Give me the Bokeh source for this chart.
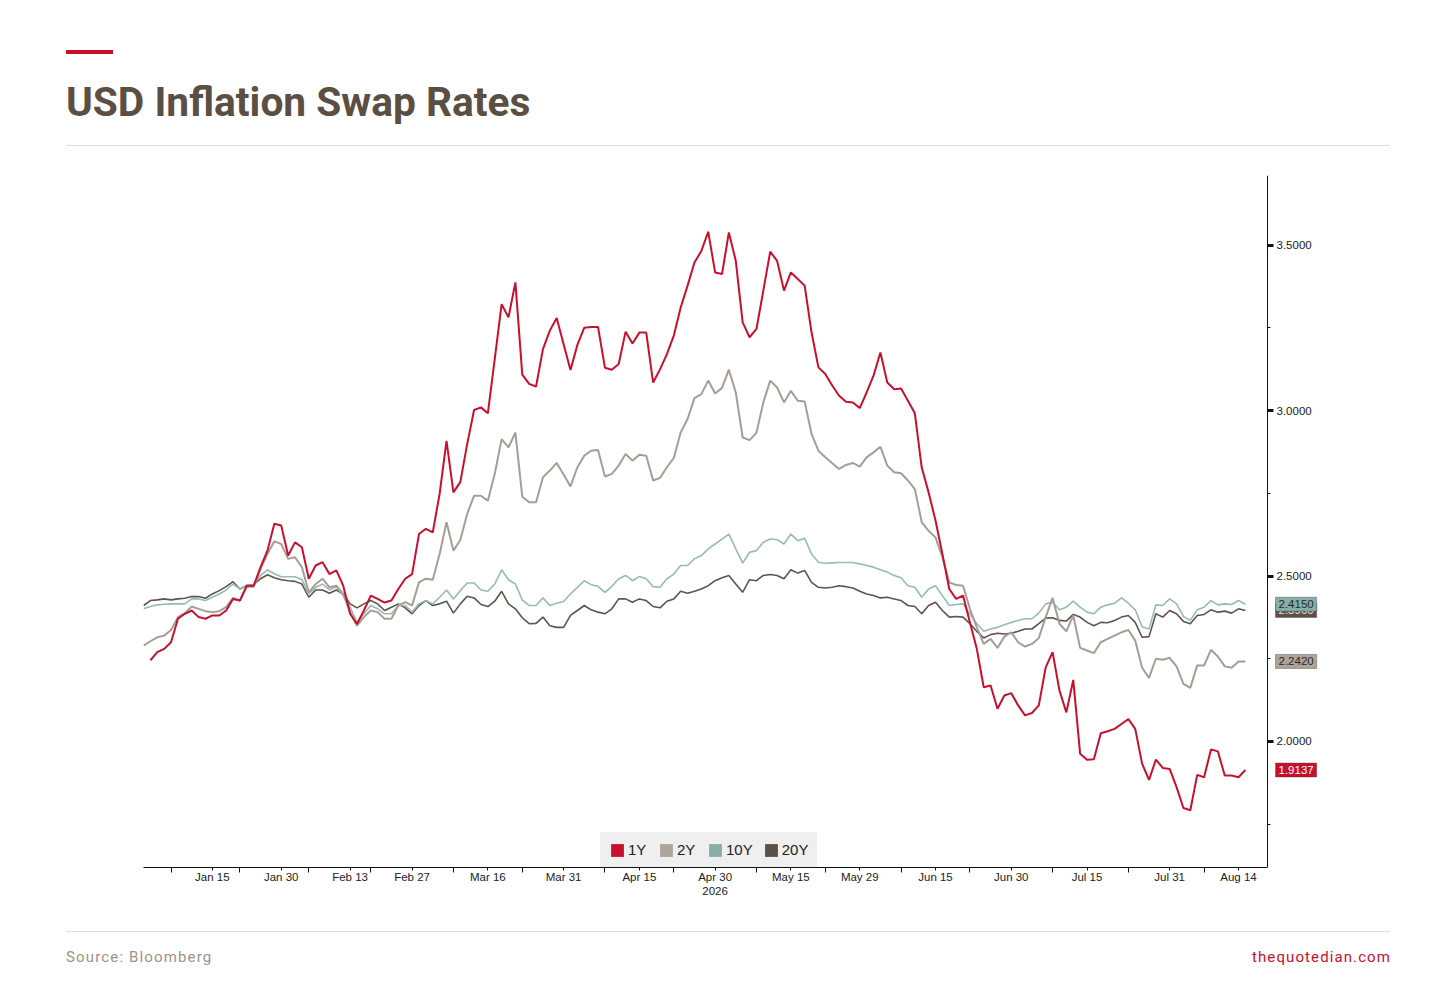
from bokeh.plotting import figure
from bokeh.layouts import column
from bokeh.models import (ColumnDataSource, FixedTicker, Label, Legend, LegendItem,
                          Range1d, NumeralTickFormatter, Div)
from bokeh.embed import file_html
from bokeh.resources import INLINE

# ---------------- data (business-day index, Jan 2026 .. Aug 2026) ----------------
tick_labels = ["Jan 15", "Jan 30", "Feb 13", "Feb 27", "Mar 16", "Mar 31", "Apr 15",
               "Apr 30\n2026", "May 15", "May 29", "Jun 15", "Jun 30", "Jul 15", "Jul 31", "Aug 14"]
tick_index = [10, 20, 30, 39, 50, 61, 72, 83, 94, 104, 115, 126, 137, 149, 159]
minor_index = [4, 14, 24, 33, 45, 55, 67, 77, 89, 99, 110, 120, 132, 143, 154]

y_ticks = [2.0, 2.5, 3.0, 3.5]
y_minor = [1.75, 2.25, 2.75, 3.25]

one_y = [float("nan"),
    2.245, 2.270, 2.280, 2.300, 2.371, 2.386, 2.396, 2.376, 2.371, 2.381, 2.381, 2.396, 2.431, 2.426,
    2.471, 2.471, 2.527, 2.577, 2.658, 2.653, 2.562, 2.602, 2.587, 2.492, 2.532, 2.542, 2.506, 2.517,
    2.471, 2.386, 2.355, 2.396, 2.441, 2.431, 2.420, 2.426, 2.461, 2.492, 2.506, 2.627, 2.643,
    2.632, 2.749, 2.909, 2.753, 2.784, 2.899, 3.002, 3.010, 2.992, 3.156, 3.322, 3.282, 3.388, 3.109,
    3.081, 3.073, 3.186, 3.242, 3.280, 3.201, 3.123, 3.199, 3.251, 3.253, 3.253, 3.130, 3.124, 3.141,
    3.239, 3.203, 3.236, 3.236, 3.085, 3.125, 3.171, 3.227, 3.312, 3.378, 3.448, 3.483, 3.541,
    3.418, 3.413, 3.539, 3.453, 3.267, 3.222, 3.247, 3.363, 3.481, 3.453, 3.363, 3.418, 3.398, 3.378,
    3.237, 3.131, 3.111, 3.076, 3.045, 3.027, 3.025, 3.008, 3.055, 3.106, 3.176, 3.085, 3.065, 3.067,
    3.030, 2.992, 2.828, 2.753, 2.668, 2.567, 2.461, 2.431, 2.441,
    2.360, 2.280, 2.164, 2.169, 2.099, 2.139, 2.146, 2.109, 2.079, 2.086, 2.109, 2.224, 2.270, 2.154,
    2.088, 2.186, 1.963, 1.945, 1.946, 2.025, 2.031, 2.038, 2.053, 2.068, 2.038, 1.933, 1.884, 1.945,
    1.920, 1.917, 1.862, 1.799, 1.792, 1.899, 1.892, 1.976, 1.970, 1.897, 1.897, 1.892, 1.9137]

two_y = [
    2.290, 2.303, 2.315, 2.320, 2.337, 2.376, 2.388, 2.408, 2.401, 2.394, 2.391, 2.394, 2.406, 2.434,
    2.426, 2.468, 2.468, 2.522, 2.567, 2.605, 2.597, 2.552, 2.557, 2.527, 2.451, 2.476, 2.492, 2.466,
    2.471, 2.446, 2.391, 2.350, 2.376, 2.396, 2.391, 2.371, 2.371, 2.411, 2.421, 2.411, 2.481, 2.492,
    2.489, 2.567, 2.663, 2.577, 2.609, 2.688, 2.743, 2.743, 2.728, 2.809, 2.914, 2.889, 2.934, 2.740,
    2.723, 2.723, 2.799, 2.819, 2.842, 2.807, 2.771, 2.829, 2.864, 2.879, 2.881, 2.801, 2.809, 2.834,
    2.869, 2.849, 2.867, 2.864, 2.789, 2.797, 2.829, 2.857, 2.934, 2.975, 3.038, 3.050, 3.091,
    3.052, 3.069, 3.124, 3.055, 2.919, 2.911, 2.933, 3.025, 3.091, 3.070, 3.025, 3.060, 3.030, 3.028,
    2.930, 2.879, 2.859, 2.841, 2.824, 2.836, 2.842, 2.831, 2.859, 2.874, 2.891, 2.834, 2.814, 2.811,
    2.789, 2.763, 2.663, 2.637, 2.617, 2.557, 2.481, 2.473,
    2.471, 2.401, 2.345, 2.295, 2.310, 2.283, 2.317, 2.330, 2.300, 2.287, 2.295, 2.313, 2.376, 2.434,
    2.356, 2.333, 2.381, 2.283, 2.275, 2.267, 2.300, 2.310, 2.320, 2.330, 2.337, 2.305, 2.223, 2.192,
    2.250, 2.247, 2.253, 2.227, 2.174, 2.162, 2.230, 2.230, 2.277, 2.257, 2.227, 2.223, 2.242, 2.242]

ten_y = [
    2.401, 2.408, 2.413, 2.415, 2.416, 2.416, 2.416, 2.431, 2.431, 2.426, 2.436, 2.446, 2.458, 2.476,
    2.461, 2.473, 2.473, 2.502, 2.519, 2.507, 2.498, 2.498, 2.498, 2.489, 2.446, 2.466, 2.476, 2.458,
    2.468, 2.441, 2.406, 2.360, 2.386, 2.411, 2.401, 2.386, 2.386, 2.411, 2.411, 2.391, 2.416, 2.426,
    2.416, 2.436, 2.458, 2.431, 2.456, 2.479, 2.479, 2.458, 2.454, 2.476, 2.519, 2.489, 2.476, 2.428,
    2.411, 2.411, 2.434, 2.411, 2.418, 2.423, 2.446, 2.466, 2.486, 2.474, 2.469, 2.451, 2.469, 2.492,
    2.502, 2.486, 2.499, 2.492, 2.468, 2.466, 2.492, 2.506, 2.532, 2.532, 2.552, 2.562, 2.582,
    2.597, 2.612, 2.627, 2.582, 2.539, 2.572, 2.577, 2.602, 2.612, 2.610, 2.597, 2.627, 2.607, 2.614,
    2.567, 2.542, 2.539, 2.540, 2.541, 2.541, 2.541, 2.537, 2.532, 2.527, 2.519, 2.512, 2.502, 2.495,
    2.471, 2.466, 2.436, 2.461, 2.471, 2.441, 2.411, 2.414,
    2.416, 2.386, 2.356, 2.333, 2.340, 2.345, 2.353, 2.360, 2.366, 2.371, 2.371, 2.388, 2.416, 2.421,
    2.398, 2.406, 2.424, 2.406, 2.391, 2.386, 2.406, 2.413, 2.418, 2.434, 2.418, 2.398, 2.347, 2.340,
    2.413, 2.411, 2.431, 2.416, 2.378, 2.366, 2.398, 2.406, 2.426, 2.413, 2.416, 2.414, 2.426, 2.415]

twenty_y = [
    2.411, 2.426, 2.428, 2.431, 2.428, 2.431, 2.433, 2.438, 2.438, 2.433, 2.446, 2.456, 2.468, 2.483,
    2.461, 2.471, 2.474, 2.492, 2.504, 2.495, 2.489, 2.486, 2.484, 2.476, 2.436, 2.458, 2.458, 2.448,
    2.458, 2.446, 2.416, 2.404, 2.416, 2.426, 2.416, 2.396, 2.406, 2.416, 2.404, 2.386, 2.411, 2.426,
    2.411, 2.416, 2.424, 2.388, 2.416, 2.439, 2.434, 2.414, 2.408, 2.424, 2.454, 2.416, 2.401, 2.374,
    2.356, 2.357, 2.376, 2.350, 2.345, 2.345, 2.381, 2.396, 2.411, 2.398, 2.391, 2.386, 2.401, 2.431,
    2.431, 2.421, 2.431, 2.426, 2.408, 2.404, 2.424, 2.431, 2.454, 2.448, 2.454, 2.461, 2.471,
    2.486, 2.495, 2.502, 2.476, 2.451, 2.489, 2.486, 2.502, 2.505, 2.502, 2.492, 2.519, 2.509, 2.517,
    2.481, 2.466, 2.464, 2.466, 2.471, 2.468, 2.464, 2.454, 2.446, 2.441, 2.434, 2.436, 2.431, 2.426,
    2.411, 2.408, 2.386, 2.411, 2.421, 2.396, 2.376, 2.378,
    2.376, 2.356, 2.333, 2.313, 2.323, 2.327, 2.325, 2.327, 2.333, 2.340, 2.340, 2.356, 2.373, 2.374,
    2.366, 2.364, 2.384, 2.376, 2.360, 2.350, 2.360, 2.359, 2.366, 2.376, 2.381, 2.360, 2.315, 2.317,
    2.386, 2.376, 2.396, 2.386, 2.363, 2.356, 2.381, 2.384, 2.398, 2.391, 2.394, 2.388, 2.401, 2.396]

day = list(range(len(two_y)))

title_text = "USD Inflation Swap Rates"
source_text = "Source: Bloomberg"
site_text = "thequotedian.com"

names = ["1Y", "2Y", "10Y", "20Y"]
line_colors = {"1Y": "#C8102E", "2Y": "#A69E95", "10Y": "#97BBB4", "20Y": "#5E544B"}
tag_colors = {"1Y": "#C8102E", "2Y": "#ADA49A", "10Y": "#86AEA6", "20Y": "#5B5048"}
tag_text = {"1Y": "#FFFFFF", "2Y": "#2A2A2A", "10Y": "#1F2A28", "20Y": "#E8E4E0"}

# ---------------- layout constants (page px) ----------------
W = 1440
HEADER_H, FOOTER_H = 150, 60
FIG_TOP = HEADER_H
FL, AXR, FR, FT, FB = 143, 1267, 1330, 175, 867
FIG_H = 920 - FIG_TOP
PX_PER_DAY = 6.887
X_START = 0.0
X_AXIS = (AXR - FL) / PX_PER_DAY
X_END = (FR - FL) / PX_PER_DAY
Y_START, Y_END = 1.619, 3.711
LEG_PAD = 9

src = ColumnDataSource(dict(day=day, y1=one_y, y2=two_y, y10=ten_y, y20=twenty_y))

p = figure(width=W, height=FIG_H, output_backend="svg", toolbar_location=None, tools="",
           x_range=Range1d(X_START, X_END), y_range=Range1d(Y_START, Y_END),
           y_axis_location="right",
           min_border_left=FL, min_border_right=W - FR,
           min_border_top=FT - FIG_TOP, min_border_bottom=FIG_TOP + FIG_H - FB)
p.outline_line_color = None
p.xgrid.visible = False
p.ygrid.visible = False
p.background_fill_color = "white"
p.border_fill_color = "white"

for col, key, lw in [("20Y", "y20", 1.6), ("10Y", "y10", 1.6), ("2Y", "y2", 2.0), ("1Y", "y1", 2.0)]:
    p.line("day", key, source=src, line_color=line_colors[col], line_width=lw)

# x axis
xa = p.xaxis[0]
xa.bounds = (X_START, X_AXIS)
xa.ticker = FixedTicker(ticks=tick_index, minor_ticks=minor_index)
xa.major_label_overrides = {t: l for t, l in zip(tick_index, tick_labels)}
xa.axis_line_color = "#111111"
xa.major_tick_line_color = "#111111"
xa.minor_tick_line_color = "#111111"
xa.major_tick_in = 0
xa.major_tick_out = 3
xa.minor_tick_in = 0
xa.minor_tick_out = 5
xa.major_label_standoff = -2
xa.major_label_text_font = "Liberation Sans"
xa.major_label_text_font_size = "11.5px"
xa.major_label_text_color = "#222222"

# y axis drawn at a fixed data location so the value tags fit right of it
ya = p.yaxis[0]
ya.fixed_location = X_AXIS
ya.ticker = FixedTicker(ticks=y_ticks, minor_ticks=y_minor)
ya.formatter = NumeralTickFormatter(format="0.0000")
ya.axis_line_color = "#111111"
ya.major_tick_line_color = "#111111"
ya.major_tick_line_width = 3
ya.major_tick_in = 0
ya.major_tick_out = 6
ya.minor_tick_line_color = "#111111"
ya.minor_tick_in = 0
ya.minor_tick_out = 3
ya.major_label_standoff = 3
ya.major_label_text_font = "Liberation Sans"
ya.major_label_text_font_size = "11.5px"
ya.major_label_text_color = "#222222"

# legend with square swatches (renderers hold a single NaN row, so nothing is drawn)
nan = float("nan")
items = []
for n in names:
    r = p.quad(left=[nan], right=[nan], top=[nan], bottom=[nan],
               fill_color=tag_colors[n], line_color=None)
    items.append(LegendItem(label=n, renderers=[r]))
legend = Legend(items=items, orientation="horizontal",
                location=(600 - FL, 0),
                background_fill_color="#EFEFEF", background_fill_alpha=1.0,
                border_line_color="#EFEFEF", border_line_width=LEG_PAD,
                label_text_font="Liberation Sans",
                label_text_font_size="15px", label_text_color="#222222",
                glyph_width=16, glyph_height=16, label_standoff=3, spacing=10,
                padding=0, margin=0)
p.add_layout(legend, "center")

# last value tags right of the y axis
lasts = {"1Y": one_y[-1], "2Y": two_y[-1], "10Y": ten_y[-1], "20Y": twenty_y[-1]}
for n in ["20Y", "10Y", "2Y", "1Y"]:
    v = lasts[n]
    p.add_layout(Label(x=X_AXIS, y=v, text=f"{v:.4f}", x_offset=8, text_baseline="middle",
                       text_font="Liberation Sans", text_font_size="11.5px",
                       text_color=tag_text[n], background_fill_color=tag_colors[n],
                       background_fill_alpha=1.0, border_line_color="#444444",
                       border_line_alpha=0.4, padding=3))

header = Div(width=W, height=HEADER_H, margin=0, text=f"""
<div style="position:relative;width:{W}px;height:{HEADER_H}px;">
  <div style="position:absolute;left:66px;top:50px;width:47px;height:4px;background:#C8102E;"></div>
  <div style="position:absolute;left:66px;top:82px;font-family:Roboto;font-weight:bold;font-size:40.7px;
       line-height:40px;color:#5B4E43;white-space:nowrap;">{title_text}</div>
  <div style="position:absolute;left:66px;top:145px;width:1324px;height:1px;background:#DEDEDE;"></div>
</div>""")

footer = Div(width=W, height=FOOTER_H, margin=0, text=f"""
<div style="position:relative;width:{W}px;height:{FOOTER_H}px;">
  <div style="position:absolute;left:66px;top:11px;width:1324px;height:1px;background:#DEDEDE;"></div>
  <div style="position:absolute;left:66px;top:30px;font-family:Roboto;font-size:15px;line-height:15px;
       letter-spacing:1.15px;color:#9C938A;white-space:nowrap;">{source_text}</div>
  <div style="position:absolute;right:{W - 1391}px;top:30px;font-family:Roboto;font-size:15px;line-height:15px;
       letter-spacing:1.1px;color:#C8102E;white-space:nowrap;">{site_text}</div>
</div>""")

layout = column(header, p, footer, spacing=0)
open("out.html", "w").write(file_html(layout, INLINE))
